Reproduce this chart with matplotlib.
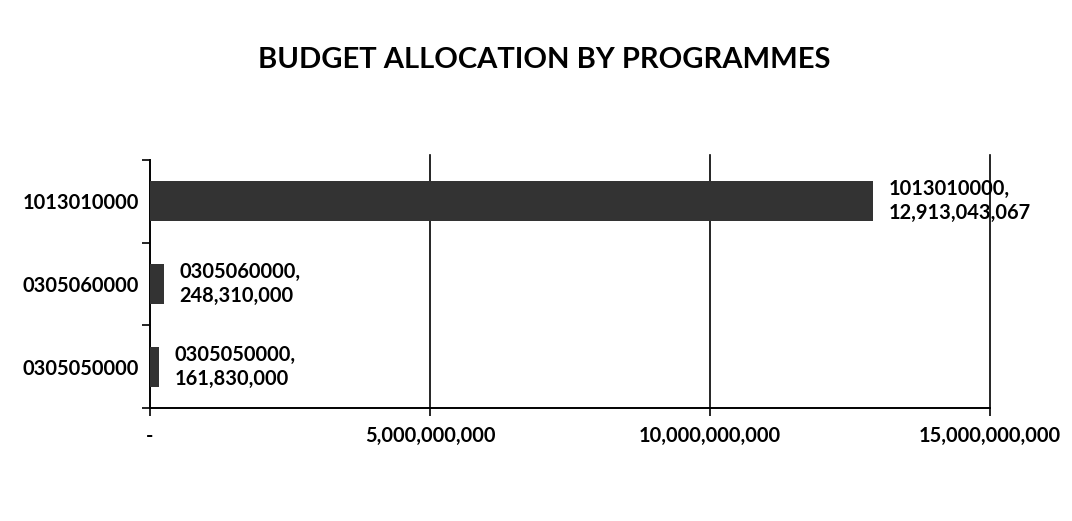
import matplotlib
matplotlib.use("Agg")
import matplotlib.pyplot as plt
from matplotlib.ticker import FixedLocator

categories = ["0305050000", "0305060000", "1013010000"]
values = [161830000, 248310000, 12913043067]
xticks = [0, 5e9, 10e9, 15e9]
xtick_labels = ["-", "5,000,000,000", "10,000,000,000", "15,000,000,000"]
title = "BUDGET ALLOCATION BY PROGRAMMES"

font = "Lato"
fs = 14.4
fig = plt.figure(figsize=(10.72, 5.21), dpi=100)
ax = fig.add_axes([0.1399, 0.2169, 0.7836, 0.476])

ypos = list(range(len(categories)))
ax.barh(ypos, values, height=0.48, color="#333333", zorder=3)
ax.set_xlim(0, 15e9)
ax.set_ylim(-0.5, len(categories) - 0.5)

ax.set_xticks(xticks)
ax.set_xticklabels(xtick_labels, fontfamily=font, fontweight="bold", fontsize=fs)
ax.tick_params(axis="x", length=6, width=1.2, pad=7, color="black")
for x in xticks[1:]:
    ax.axvline(x, color="black", lw=1.2, zorder=1, ymax=1.02, clip_on=False)

ax.set_yticks(ypos)
ax.set_yticklabels(categories, fontfamily=font, fontweight="bold", fontsize=fs)
ax.tick_params(axis="y", length=0, pad=8)
ax.yaxis.set_minor_locator(FixedLocator([-0.5, 0.5, 1.5, 2.5]))
ax.tick_params(axis="y", which="minor", length=6, width=1.2, color="black")

for s in ["top", "right"]:
    ax.spines[s].set_visible(False)
for s in ["left", "bottom"]:
    ax.spines[s].set_color("black")
    ax.spines[s].set_linewidth(1.4)

for y, (c, v) in enumerate(zip(categories, values)):
    ax.annotate(f"{c},\n{v:,}", xy=(v, y), xytext=(11, 0), textcoords="offset points",
                ha="left", va="center", fontfamily=font, fontweight="bold",
                fontsize=fs, linespacing=1.25, zorder=4)

fig.text(0.508, 0.885, title, ha="center", va="center", fontfamily=font,
         fontweight="bold", fontsize=21)

fig.savefig("out.png", dpi=100, facecolor="white")
